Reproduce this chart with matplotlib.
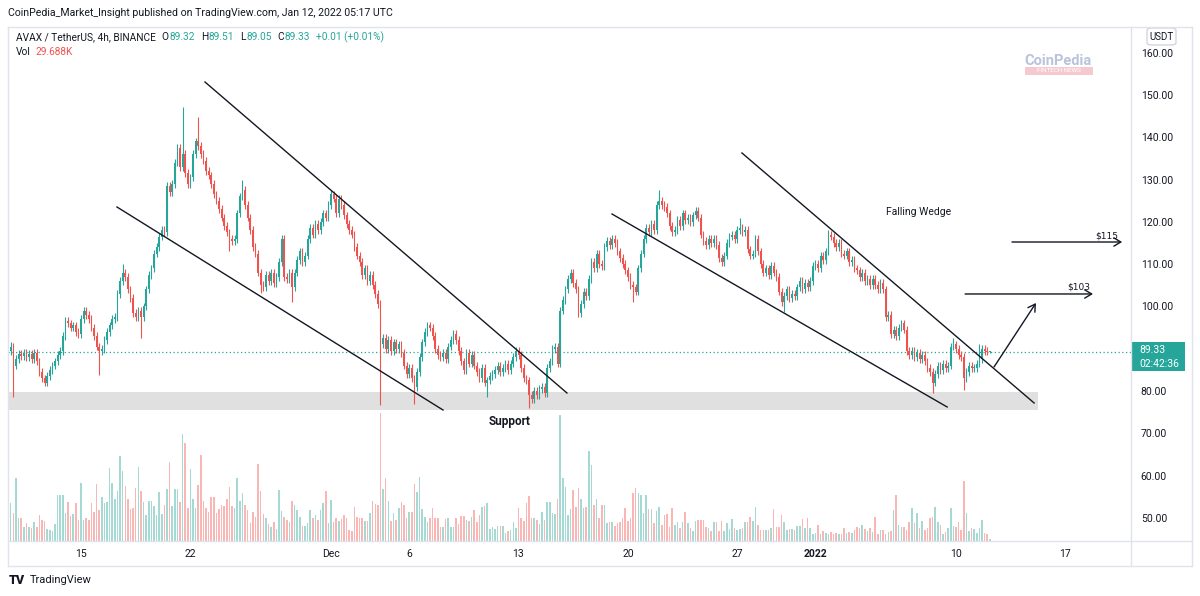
import matplotlib
matplotlib.use("Agg")
import matplotlib.pyplot as plt
import numpy as np
import pandas as pd
from matplotlib.patches import Rectangle, FancyBboxPatch
from matplotlib.lines import Line2D

# ---------------- data ----------------
start_time = "2021-11-10 12:00"
closes = [
90.5, 86.0, 87.5, 88.8, 88.2, 89.0, 88.0, 88.8, 87.5, 89.0,
87.0, 84.5, 83.0, 82.0, 83.5, 85.0, 86.0, 87.0, 88.5, 89.5,
93.0, 96.5, 96.0, 95.0, 95.5, 94.0, 93.5, 97.0, 99.0, 98.0,
97.0, 95.0, 93.0, 90.5, 89.5, 90.0, 92.0, 94.0, 95.5, 97.0,
97.5, 103.0, 106.0, 108.0, 107.0, 104.0, 102.0, 98.5, 97.5, 99.0,
97.5, 100.0, 104.0, 107.5, 109.0, 112.5, 114.0, 116.5, 118.0, 117.5,
128.5, 127.0, 129.0, 134.0, 137.5, 133.0, 136.0, 131.5, 129.0, 130.5,
136.0, 139.0, 138.0, 136.0, 134.5, 132.0, 131.0, 129.0, 126.5, 125.0,
123.0, 121.0, 119.0, 117.5, 116.0, 115.5, 116.0, 122.0, 126.0, 127.5,
124.0, 121.0, 118.0, 114.0, 112.5, 108.0, 105.0, 104.5, 107.5, 106.0,
108.0, 105.5, 107.0, 110.5, 116.0, 107.0, 106.5, 108.0, 104.5, 108.0,
111.0, 113.0, 110.5, 112.0, 116.0, 118.5, 117.0, 119.5, 118.0, 120.0,
122.0, 121.0, 124.0, 126.5, 125.5, 122.0, 125.5, 124.0, 121.5, 119.5,
118.0, 117.0, 114.0, 112.0, 110.5, 107.5, 109.0, 106.0, 107.5, 105.0,
103.0, 100.5, 91.0, 92.5, 90.0, 92.0, 89.5, 91.5, 90.0, 91.0,
89.0, 86.0, 84.0, 85.5, 83.0, 81.0, 84.5, 88.0, 91.5, 94.0,
95.5, 95.0, 93.0, 90.0, 88.5, 88.0, 89.0, 87.5, 90.5, 92.0,
93.5, 92.0, 89.5, 87.0, 85.0, 89.0, 86.5, 88.5, 86.0, 84.5,
83.0, 85.5, 82.0, 82.5, 83.5, 84.0, 85.0, 86.0, 84.5, 85.5,
86.5, 85.0, 86.5, 88.0, 89.5, 88.5, 85.5, 83.0, 82.5, 79.0,
78.0, 80.0, 79.0, 80.5, 81.0, 79.5, 85.5, 87.0, 90.0, 90.5,
86.5, 99.0, 101.5, 104.0, 106.5, 108.0, 105.5, 104.0, 98.5, 100.5,
103.5, 102.5, 106.5, 110.5, 109.0, 112.5, 110.0, 109.5, 114.0, 115.5,
114.5, 116.0, 115.0, 113.0, 111.5, 110.0, 108.5, 107.0, 105.0, 104.5,
103.5, 109.0, 112.5, 116.0, 118.5, 117.5, 119.5, 118.0, 124.0, 125.0,
124.0, 123.5, 122.0, 119.0, 117.5, 118.0, 120.5, 119.0, 122.0, 120.5,
121.0, 120.0, 121.5, 122.5, 121.0, 117.0, 115.5, 114.5, 116.0, 115.0,
116.0, 114.5, 111.5, 110.5, 112.0, 115.0, 116.5, 117.0, 116.0, 118.0,
118.5, 117.5, 118.0, 113.5, 112.0, 112.5, 116.0, 113.0, 110.0, 108.0,
109.0, 107.5, 109.5, 108.0, 107.0, 103.5, 101.0, 102.5, 104.0, 102.0,
103.0, 102.5, 104.5, 106.0, 104.0, 105.5, 104.5, 106.0, 109.5, 110.0,
109.0, 112.0, 111.0, 113.0, 117.0, 116.5, 115.0, 114.0, 115.0, 112.5,
112.0, 113.0, 110.5, 111.0, 109.0, 108.5, 107.0, 108.0, 106.0, 106.5,
105.0, 106.5, 105.0, 104.0, 105.5, 104.0, 97.5, 98.0, 93.5, 94.5,
93.0, 95.0, 96.0, 94.5, 89.5, 88.5, 89.5, 88.0, 89.0, 87.5,
88.5, 87.0, 85.5, 84.5, 82.0, 84.0, 86.0, 85.0, 86.5, 85.5,
86.0, 90.5, 91.0, 90.0, 88.5, 88.0, 83.0, 84.5, 86.0, 85.5,
85.5, 86.5, 87.5, 90.0, 89.5, 89.32, 89.33]
first_open = 89.5
wick_highs = {0: 91.5, 43: 110.0, 66: 147.2, 72: 144.8, 89: 130.0, 123: 127.5,
              249: 127.5, 280: 121.0, 314: 118.0, 362: 92.5, 372: 91.0, 376: 89.51}
wick_lows = {1: 78.6, 34: 83.8, 50: 92.5, 84: 113.0, 96: 103.2, 108: 101.0,
             142: 76.7, 155: 77.0, 183: 78.6, 199: 76.0, 239: 101.0, 297: 98.7,
             354: 79.5, 366: 80.3, 376: 89.05}
default_wick = 0.9

volume_k = [
565,415,940,340,350,215,275,205,190,290,
215,390,315,300,180,165,155,255,690,690,
690,425,580,375,410,565,315,875,315,350,
315,565,440,860,465,655,565,590,1100,870,
625,750,1270,1045,830,630,475,490,800,1115,
750,590,390,600,600,525,390,740,405,540,
785,1190,525,785,785,590,1605,1470,500,1075,
635,500,840,1290,605,500,430,665,665,425,
480,540,525,635,810,520,490,945,605,725,
540,465,265,435,355,1155,755,405,350,255,
215,290,180,765,450,365,315,280,600,545,
465,360,230,230,265,465,345,390,315,465,
565,750,275,620,280,340,305,330,390,350,
165,150,505,365,350,340,305,305,425,605,
560,545,1915,785,950,600,305,425,315,490,
580,545,340,440,440,850,740,955,475,365,
290,350,500,350,345,215,210,325,340,205,
210,340,250,375,375,315,300,365,465,280,
390,515,530,575,180,205,180,225,
230,230,125,150,165,290,200,490,340,300,
575,680,340,350,315,255,440,315,580,590,
425,400,630,1880,950,810,390,480,770,510,
800,625,490,515,1350,1140,540,625,350,540,
540,265,280,290,230,265,280,350,490,305,
340,720,800,725,690,415,690,480,475,265,
455,510,240,390,400,210,500,240,280,200,
280,440,265,200,150,305,315,315,315,215,
200,150,290,280,150,300,150,265,180,325,
190,165,180,200,280,280,365,305,515,240,
165,165,165,165,190,480,215,215,390,280,
165,175,180,165,230,230,330,190,340,200,
100,115,240,100,150,115,100,140,100,115,
110,100,190,125,130,125,165,205,200,240,175,
155,200,130,365,100,165,160,100,140,150,
465,690,240,215,215,165,290,500,265,415,
200,300,165,200,350,365,515,290,240,100,
140,190,490,225,215,290,165,905,415,150,
190,180,115,190,310,115,105,29.688]

tick_dates = ["2021-11-15", "2021-11-22", "2021-12-01", "2021-12-06", "2021-12-13",
              "2021-12-20", "2021-12-27", "2022-01-01", "2022-01-10", "2022-01-17"]
tick_labels = ["15", "22", "Dec", "6", "13", "20", "27", "2022", "10", "17"]
price_ticks = [160, 150, 140, 130, 120, 110, 100, 80, 70, 60, 50]
last_price = 89.33

# ---------------- derived ----------------
n = len(closes)
times = pd.date_range(start_time, periods=n, freq="4h")
c = np.array(closes)
o = np.concatenate([[first_open], c[:-1]])
hi = np.maximum(o, c) + default_wick
lo = np.minimum(o, c) - default_wick
for k, v in wick_highs.items():
    hi[k] = v
for k, v in wick_lows.items():
    lo[k] = v
x = np.arange(n)
up = c >= o
vol = np.array(volume_k[:n])

def t2i(d):
    return (pd.Timestamp(d) - times[0]) / pd.Timedelta(hours=4)

UP = "#26a69a"
DN = "#ef5350"
TXT = "#131722"
GRID = "#e0e3eb"
FONT = "Roboto"
plt.rcParams["font.family"] = [FONT, "DejaVu Sans"]

W, H = 1200, 596
fig = plt.figure(figsize=(12, 5.96), dpi=100)
fig.patch.set_facecolor("white")

def fx(px): return px / W
def fy(py): return 1 - py / H

L, R, T, B = 8, 1131, 27, 541
rect = [fx(L), fy(B), (R - L) / W, (B - T) / H]
xlim = (-1.04, 430.2)
ylim = (44.53, 166.07)

# volume axes (behind)
vax = fig.add_axes(rect)
vax.set_xlim(*xlim)
vax.set_ylim(0, 513 * 15)
vax.bar(x, vol, width=0.6, color=np.where(up, UP, DN), alpha=0.42, linewidth=0)
vax.axis("off")

ax = fig.add_axes(rect)
ax.patch.set_visible(False)
ax.set_xlim(*xlim)
ax.set_ylim(*ylim)
for s in ax.spines.values():
    s.set_visible(False)

# support band
ax.add_patch(Rectangle((xlim[0], 75.5), 394.5 - xlim[0], 4.3, facecolor="#e0e0e0",
                       edgecolor="none", zorder=1))
# last price dotted line
ax.axhline(last_price, color=UP, lw=0.9, ls=(0, (1, 2)), zorder=2)

cols = np.where(up, UP, DN)
ax.vlines(x, lo, hi, colors=cols, lw=0.8, zorder=3)
body = np.abs(c - o)
body = np.where(body < 0.25, 0.25, body)
ax.bar(x, body, bottom=np.minimum(o, c), width=0.62, color=cols, linewidth=0, zorder=4)

# drawings
K = TXT
lw = 1.0
ax.plot([74.6, 213.6], [153.07, 79.53], color=K, lw=lw, zorder=5)
ax.plot([40.8, 166.0], [123.51, 75.51], color=K, lw=lw, zorder=5)
ax.plot([230.9, 359.6], [121.85, 76.22], color=K, lw=lw, zorder=5)
ax.plot([280.8, 393.0], [136.28, 77.16], color=K, lw=lw, zorder=5)
arrow = dict(arrowstyle="->,head_length=0.5,head_width=0.3", color=K, lw=1.0,
             shrinkA=0, shrinkB=0)
ax.annotate("", xy=(393.7, 100.81), xytext=(377.6, 85.68), arrowprops=arrow, zorder=5)
ax.annotate("", xy=(415.6, 102.94), xytext=(366.5, 102.94), arrowprops=arrow, zorder=5)
ax.annotate("", xy=(426.8, 115.23), xytext=(384.5, 115.23), arrowprops=arrow, zorder=5)
ax.text(410.3, 104.6, "$103", fontsize=6.5, color=TXT, ha="center", va="center",
        family="DejaVu Sans")
ax.text(421.0, 116.65, "$115", fontsize=6.5, color=TXT, ha="center", va="center",
        family="DejaVu Sans")
ax.text(348.5, 122.3, "Falling Wedge", fontsize=7.5, color=TXT, ha="center", va="center")
ax.text(191.4, 72.67, "Support", fontsize=8.5, color=TXT, ha="center", va="center",
        fontweight="bold")

# axes ticks
ax.set_xticks([t2i(d) for d in tick_dates])
ax.set_xticklabels(tick_labels)
for lab in ax.get_xticklabels():
    if lab.get_text() == "2022":
        lab.set_fontweight("bold")
ax.tick_params(axis="x", length=0, pad=5.5, labelsize=7.5, labelcolor=TXT)
ax.yaxis.tick_right()
ax.set_yticks(price_ticks)
ax.set_yticklabels([f"{p:.2f}" for p in price_ticks])
ax.tick_params(axis="y", length=0, pad=7, labelsize=7.5, labelcolor=TXT)

# frame lines
def hline(y, x0, x1):
    fig.add_artist(Line2D([fx(x0), fx(x1)], [fy(y), fy(y)], color=GRID, lw=1))
def vline(xp, y0, y1):
    fig.add_artist(Line2D([fx(xp), fx(xp)], [fy(y0), fy(y1)], color=GRID, lw=1))
hline(27, 8, 1192)
hline(541, 8, 1192)
hline(566, 8, 1192)
vline(8, 27, 566)
vline(R, 27, 566)
vline(1192, 27, 566)

# last price label
fig.add_artist(Rectangle((fx(1131), fy(371)), 54 / W, 29 / H, transform=fig.transFigure,
                         facecolor=UP, edgecolor="none"))
fig.text(fx(1139), fy(350), f"{last_price:.2f}", color="white", fontsize=7.5, va="center")
fig.text(fx(1139), fy(364), "02:42:36", color="white", fontsize=7.5, va="center")

# USDT box
fig.add_artist(FancyBboxPatch((fx(1147), fy(45)), 29 / W, 17 / H, transform=fig.transFigure,
                              boxstyle="round,pad=0,rounding_size=0.004",
                              facecolor="white", edgecolor="#c9cbd2", lw=0.8))
fig.text(fx(1161.5), fy(36.5), "USDT", color=TXT, fontsize=7, ha="center", va="center")

# header
fig.text(fx(8), fy(13), "CoinPedia_Market_Insight published on TradingView.com, Jan 12, 2022 05:17 UTC",
         fontsize=7.6, color=TXT, va="center")

renderer = fig.canvas.get_renderer()
def seq_text(x0, y, parts, size):
    xp = x0
    for s, col, gap in parts:
        t = fig.text(fx(xp), fy(y), s, fontsize=size, color=col, va="center")
        bb = t.get_window_extent(renderer=renderer)
        xp = xp + bb.width + gap

seq_text(16, 37, [("AVAX / TetherUS, 4h, BINANCE", TXT, 6), ("O", TXT, 0.5), ("89.32", UP, 6),
                  ("H", TXT, 0.5), ("89.51", UP, 6), ("L", TXT, 0.5), ("89.05", UP, 6),
                  ("C", TXT, 0.5), ("89.33", UP, 6), ("+0.01 (+0.01%)", UP, 0)], 7.3)
seq_text(16, 52, [("Vol", TXT, 5), ("29.688K", DN, 0)], 7.3)

# watermark
fig.text(fx(1058), fy(61), "CoinPedia", fontsize=10.5, color="#b9c3dc", ha="center",
         va="center", fontweight="bold")
fig.add_artist(Rectangle((fx(1025), fy(75)), 68 / W, 8 / H, transform=fig.transFigure,
                         facecolor="#f5c9cf", edgecolor="none"))
fig.text(fx(1059), fy(71), "FINTECH NEWS", fontsize=4.5, color="white", ha="center", va="center")

# footer logo
fig.text(fx(9), fy(580), "TV", fontsize=9, color=TXT, va="center", fontweight="heavy")
fig.text(fx(30), fy(580), "TradingView", fontsize=8, color=TXT, va="center")

fig.savefig("out.png", dpi=100, facecolor="white")
